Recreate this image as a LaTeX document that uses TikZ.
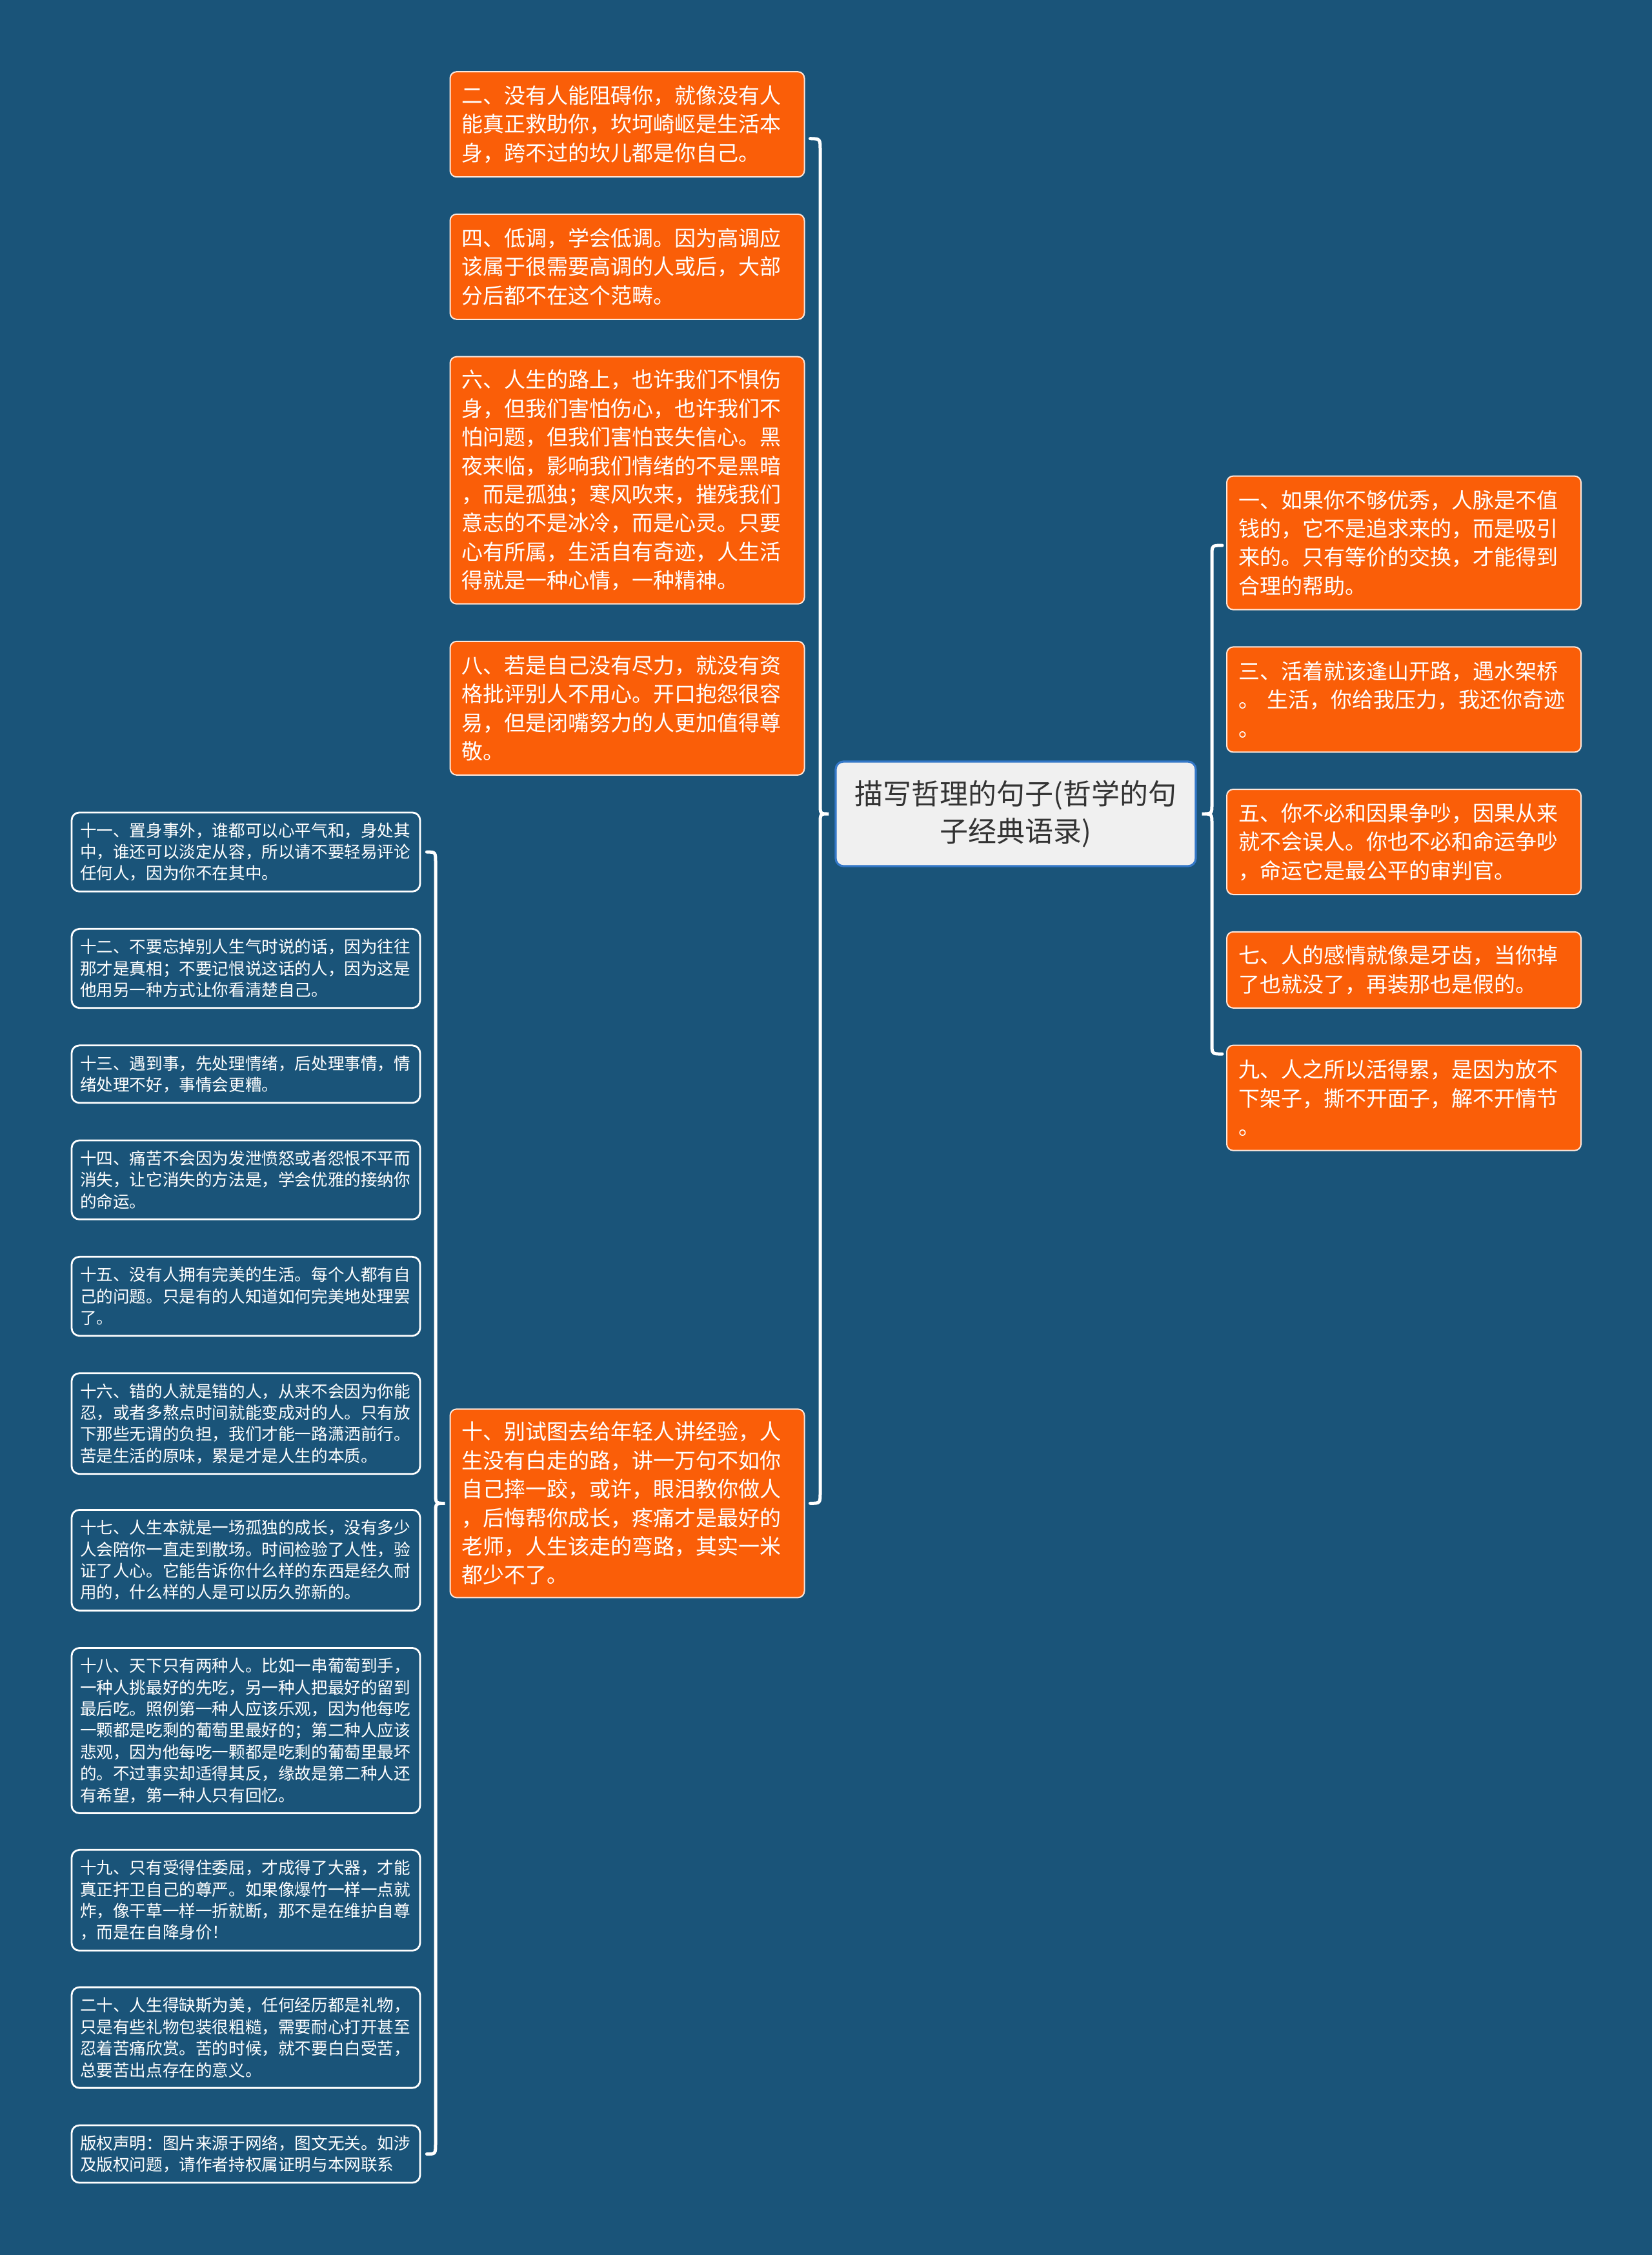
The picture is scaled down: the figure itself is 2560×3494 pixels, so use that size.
\documentclass[tikz,border=0pt]{standalone}
\usepackage{fontspec}
\setmainfont{Noto Sans CJK SC}
\usetikzlibrary{calc}
\definecolor{bgc}{RGB}{26,84,121}
\definecolor{orc}{RGB}{250,94,8}
\definecolor{rootfill}{RGB}{240,240,240}
\definecolor{rootdraw}{RGB}{52,120,200}
\definecolor{roottext}{RGB}{51,51,51}
\tikzset{
  conn/.style={draw=white, line width=1.25pt, line cap=round},
  obox/.style={draw=white!85!orc, line width=0.5pt, fill=orc, rounded corners=2.5pt, text=white, align=left, inner xsep=4.5pt, inner ysep=0pt, text width=128.25pt, font=\fontsize{8.25pt}{11.1pt}\selectfont},
  lbox/.style={draw=white, line width=0.7pt, fill=bgc, rounded corners=3pt, text=white, align=left, inner xsep=3.25pt, inner ysep=0pt, text width=128.5pt, font=\fontsize{6.4pt}{8.35pt}\selectfont},
  rootbox/.style={draw=rootdraw, line width=0.8pt, fill=rootfill, rounded corners=3pt, text=roottext, align=center, minimum width=139.5pt, minimum height=40.5pt, inner sep=0pt, font=\fontsize{11pt}{14.5pt}\selectfont},
}
\begin{document}
\begin{tikzpicture}[x=0.25pt,y=-0.25pt]
\fill[bgc] (0,0) rectangle (2560,3494);
\useasboundingbox (0,0) rectangle (2560,3494);

% root
\node[rootbox] (root) at (1574,1261) {描写哲理的句子(哲学的句\\子经典语录)};

% middle column (orange)
\node[obox, minimum height=40.75pt] (n2) at (972,192.7) {二、没有人能阻碍你，就像没有人\\能真正救助你，坎坷崎岖是生活本\\身，跨不过的坎儿都是你自己。};
\node[obox, minimum height=40.75pt] (n4) at (972,413.3) {四、低调，学会低调。因为高调应\\该属于很需要高调的人或后，大部\\分后都不在这个范畴。};
\node[obox, minimum height=95.75pt] (n6) at (972,744.2) {六、人生的路上，也许我们不惧伤\\身，但我们害怕伤心，也许我们不\\怕问题，但我们害怕丧失信心。黑\\夜来临，影响我们情绪的不是黑暗\\，而是孤独；寒风吹来，摧残我们\\意志的不是冰冷，而是心灵。只要\\心有所属，生活自有奇迹，人生活\\得就是一种心情，一种精神。};
\node[obox, minimum height=51.75pt] (n8) at (972,1097.3) {八、若是自己没有尽力，就没有资\\格批评别人不用心。开口抱怨很容\\易，但是闭嘴努力的人更加值得尊\\敬。};
\node[obox, minimum height=73pt] (n10) at (972,2329.3) {十、别试图去给年轻人讲经验，人\\生没有白走的路，讲一万句不如你\\自己摔一跤，或许，眼泪教你做人\\，后悔帮你成长，疼痛才是最好的\\老师，人生该走的弯路，其实一米\\都少不了。};

% right column (orange)
\node[obox, minimum height=51.75pt] (n1) at (2175.5,841.1) {一、如果你不够优秀，人脉是不值\\钱的，它不是追求来的，而是吸引\\来的。只有等价的交换，才能得到\\合理的帮助。};
\node[obox, minimum height=40.75pt] (n3) at (2175.5,1083.9) {三、活着就该逢山开路，遇水架桥\\。 生活，你给我压力，我还你奇迹\\。};
\node[obox, minimum height=40.75pt] (n5) at (2175.5,1304.5) {五、你不必和因果争吵，因果从来\\就不会误人。你也不必和命运争吵\\，命运它是最公平的审判官。};
\node[obox, minimum height=29.5pt] (n7) at (2175.5,1502.8) {七、人的感情就像是牙齿，当你掉\\了也就没了，再装那也是假的。};
\node[obox, minimum height=40.75pt] (n9) at (2175.5,1701.1) {九、人之所以活得累，是因为放不\\下架子，撕不开面子，解不开情节\\。};

% left column (blue)
\node[lbox, minimum height=30.6pt] (n11) at (381,1320.1) {十一、置身事外，谁都可以心平气和，身处其\\中，谁还可以淡定从容，所以请不要轻易评论\\任何人，因为你不在其中。};
\node[lbox, minimum height=30.6pt] (n12) at (381,1500.5) {十二、不要忘掉别人生气时说的话，因为往往\\那才是真相；不要记恨说这话的人，因为这是\\他用另一种方式让你看清楚自己。};
\node[lbox, minimum height=22.25pt] (n13) at (381,1664.3) {十三、遇到事，先处理情绪，后处理事情，情\\绪处理不好，事情会更糟。};
\node[lbox, minimum height=30.6pt] (n14) at (381,1828.1) {十四、痛苦不会因为发泄愤怒或者怨恨不平而\\消失，让它消失的方法是，学会优雅的接纳你\\的命运。};
\node[lbox, minimum height=30.6pt] (n15) at (381,2008.5) {十五、没有人拥有完美的生活。每个人都有自\\己的问题。只是有的人知道如何完美地处理罢\\了。};
\node[lbox, minimum height=39pt] (n16) at (381,2205.7) {十六、错的人就是错的人，从来不会因为你能\\忍，或者多熬点时间就能变成对的人。只有放\\下那些无谓的负担，我们才能一路潇洒前行。\\苦是生活的原味，累是才是人生的本质。};
\node[lbox, minimum height=39pt] (n17) at (381,2417.4) {十七、人生本就是一场孤独的成长，没有多少\\人会陪你一直走到散场。时间检验了人性，验\\证了人心。它能告诉你什么样的东西是经久耐\\用的，什么样的人是可以历久弥新的。};
\node[lbox, minimum height=64pt] (n18) at (381,2681.4) {十八、天下只有两种人。比如一串葡萄到手，\\一种人挑最好的先吃，另一种人把最好的留到\\最后吃。照例第一种人应该乐观，因为他每吃\\一颗都是吃剩的葡萄里最好的；第二种人应该\\悲观，因为他每吃一颗都是吃剩的葡萄里最坏\\的。不过事实却适得其反，缘故是第二种人还\\有希望，第一种人只有回忆。};
\node[lbox, minimum height=39pt] (n19) at (381,2944.3) {十九、只有受得住委屈，才成得了大器，才能\\真正扞卫自己的尊严。如果像爆竹一样一点就\\炸，像干草一样一折就断，那不是在维护自尊\\，而是在自降身价！};
\node[lbox, minimum height=39pt] (n20) at (381,3157.1) {二十、人生得缺斯为美，任何经历都是礼物，\\只是有些礼物包装很粗糙，需要耐心打开甚至\\忍着苦痛欣赏。苦的时候，就不要白白受苦，\\总要苦出点存在的意义。};
\node[lbox, minimum height=22.25pt] (ncp) at (381,3337.5) {版权声明：图片来源于网络，图文无关。如涉\\及版权问题，请作者持权属证明与本网联系};

% brace end points
\coordinate (a1) at ($(n2.east)+(8,22)$);
\coordinate (z1) at ($(n10.east)+(8,0)$);
\coordinate (t1) at ($(root.west)+(-9,0)$);
\coordinate (a2) at ($(n1.west)+(-6,4)$);
\coordinate (z2) at ($(n9.west)+(-6,-68)$);
\coordinate (t2) at ($(root.east)+(8,0)$);
\coordinate (a3) at ($(n11.east)+(9,0)$);
\coordinate (z3) at ($(ncp.east)+(9,0)$);
\coordinate (t3) at ($(n10.west)+(-7,0)$);

% middle group brace (root -> 2,4,6,8,10)
\draw[conn] (a1) .. controls (1271,215) .. (1271,233) -- (1271,1246)
  .. controls (1271,1261) .. (t1) .. controls (1271,1261) .. (1271,1276)
  -- (1271,2312) .. controls (1271,2329.3) .. (z1);
% right group brace (root -> 1,3,5,7,9)
\draw[conn] (a2) .. controls (1878,845) .. (1878,862) -- (1878,1246)
  .. controls (1878,1261) .. (t2) .. controls (1878,1261) .. (1878,1276)
  -- (1878,1616) .. controls (1878,1633) .. (z2);
% left group brace (10 -> 11..20, copyright)
\draw[conn] (a3) .. controls (675,1320.1) .. (675,1337) -- (675,2314)
  .. controls (675,2329.3) .. (t3) .. controls (675,2329.3) .. (675,2344)
  -- (675,3320) .. controls (675,3337.5) .. (z3);
\end{tikzpicture}
\end{document}
